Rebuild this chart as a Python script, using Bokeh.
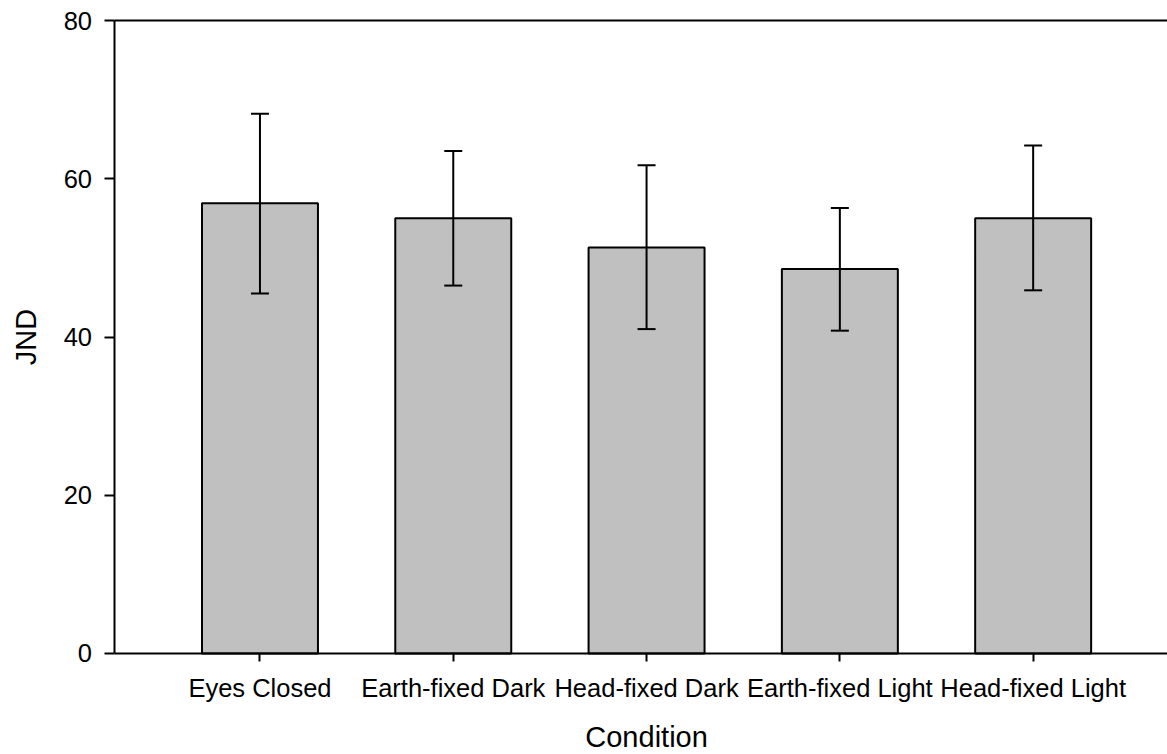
import math
from bokeh.plotting import figure
from bokeh.models import (ColumnDataSource, Range1d, FixedTicker, LinearAxis,
                          Whisker, TeeHead, Label)
from bokeh.embed import file_html
from bokeh.resources import INLINE

# Mean JND per viewing condition, with the upper and lower error limits
conditions = ["Eyes Closed", "Earth-fixed Dark", "Head-fixed Dark",
              "Earth-fixed Light", "Head-fixed Light"]
jnd_mean = [56.9, 55.0, 51.3, 48.6, 55.0]
err_upper = [68.2, 63.5, 61.7, 56.3, 64.2]
err_lower = [45.5, 46.5, 41.0, 40.8, 45.9]
y_ticks = [0, 20, 40, 60, 80]

FONT = "Liberation Sans"
TICK_SIZE = "25.5px"
LABEL_SIZE = "29px"

# data extent of the axes box
X_LO, X_HI = -0.75, 4.70
Y_LO, Y_HI = 0, 80

xpos = list(range(len(conditions)))
src = ColumnDataSource(dict(x=xpos, top=jnd_mean, upper=err_upper, lower=err_lower))

# The plotting area fills the whole canvas; the axes are pinned to the edges
# of the axes box and their labels sit around it.
p = figure(width=1167, height=754, output_backend="svg", toolbar_location=None,
           x_range=Range1d(-1.3423, 4.695), y_range=Range1d(-12.765, 82.528),
           min_border_left=0, min_border_right=0,
           min_border_top=0, min_border_bottom=0)
p.outline_line_color = None
p.xgrid.visible = False
p.ygrid.visible = False
p.background_fill_color = "white"
p.border_fill_color = "white"

p.vbar(x="x", top="top", bottom=0, width=0.6, source=src,
       fill_color="#c0c0c0", line_color="black", line_width=2)

# error bars drawn over the bars
whisk = Whisker(base="x", upper="upper", lower="lower", source=src,
                line_color="black", line_width=2, level="overlay",
                upper_head=TeeHead(size=18, line_color="black", line_width=2),
                lower_head=TeeHead(size=18, line_color="black", line_width=2))
p.add_layout(whisk)

# x axis: condition names at the bar centres
xa = p.xaxis[0]
xa.fixed_location = Y_LO
xa.bounds = (X_LO, X_HI)
xa.ticker = FixedTicker(ticks=xpos)
xa.major_label_overrides = {i: c for i, c in enumerate(conditions)}
xa.minor_tick_line_color = None
xa.major_tick_in = 0
xa.major_tick_out = 8
xa.major_label_standoff = 13
xa.axis_line_width = 2
xa.major_tick_line_width = 2
xa.major_label_text_font = FONT
xa.major_label_text_font_size = TICK_SIZE
xa.major_label_text_color = "black"

# y axis
ya = p.yaxis[0]
ya.fixed_location = X_LO
ya.bounds = (Y_LO, Y_HI)
ya.ticker = FixedTicker(ticks=y_ticks)
ya.minor_tick_line_color = None
ya.major_tick_in = 0
ya.major_tick_out = 10
ya.major_label_standoff = 13
ya.axis_line_width = 2
ya.major_tick_line_width = 2
ya.major_label_text_font = FONT
ya.major_label_text_font_size = TICK_SIZE
ya.major_label_text_color = "black"

# plain line along the top of the axes box
top_axis = LinearAxis(ticker=FixedTicker(ticks=[]), axis_line_width=2,
                      fixed_location=Y_HI, bounds=(X_LO, X_HI),
                      major_tick_line_color=None, minor_tick_line_color=None,
                      major_label_text_font_size="0px", major_label_standoff=0,
                      major_tick_out=0, major_tick_in=0)
p.add_layout(top_axis, "above")

# axis titles
p.add_layout(Label(x=2, y=-10.5, text="Condition", text_align="center",
                   text_baseline="middle", text_font=FONT,
                   text_font_size=LABEL_SIZE, text_color="black"))
p.add_layout(Label(x=-1.2083, y=40, text="JND", angle=math.pi / 2,
                   text_align="center", text_baseline="middle",
                   text_font=FONT, text_font_size=LABEL_SIZE,
                   text_color="black"))

open("out.html", "w").write(file_html(p, INLINE))
